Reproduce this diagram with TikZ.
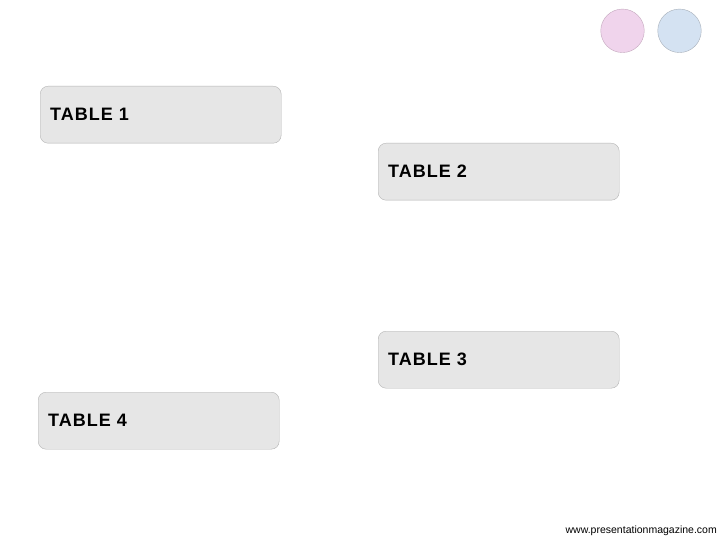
\documentclass[tikz,border=0pt]{standalone}
\usepackage{fontspec}
\setmainfont{Liberation Sans}
\newfontfamily\tablefont[LetterSpace=5.5]{Liberation Sans}
\usetikzlibrary{positioning}
\usepackage{xcolor}
\newcommand{\boxwd}{241pt}
\newcommand{\boxht}{57pt}
\definecolor{boxgray}{HTML}{E6E6E6}
\definecolor{edgegray}{HTML}{B4B4B4}
\definecolor{dotpink}{HTML}{F0D4EC}
\definecolor{dotpinkedge}{HTML}{C4A8BE}
\definecolor{dotblue}{HTML}{D4E2F2}
\definecolor{dotblueedge}{HTML}{A8B0BA}
\tikzset{
    tablesty/.style={draw=edgegray,fill=boxgray,rounded corners=8pt,rectangle,
                     minimum width=\boxwd,minimum height=\boxht,text width=221pt,
                     inner xsep=10pt,align=left,anchor=north west,
                     font=\tablefont\bfseries\fontsize{18}{21}\selectfont},
    pdotsty/.style={draw=dotpinkedge,fill=dotpink,circle,minimum size=43.5pt,inner sep=0pt},
    bdotsty/.style={draw=dotblueedge,fill=dotblue,circle,minimum size=43.5pt,inner sep=0pt},
    urlsty/.style={anchor=east,inner sep=0pt,font=\fontsize{10.5}{12}\selectfont},
}

\begin{document}
\begin{tikzpicture}[x=1pt,y=-1pt]
  \useasboundingbox[fill=white] (0,0) rectangle (720,540);

  % decoration dots
  \node[pdotsty] (dotp) at (622.5,30.8) {};
  \node[bdotsty] (dotb) at (679.5,30.8) {};

  % tables
  \node[tablesty] (tab1) at (40,86)  {TABLE 1};
  \node[tablesty] (tab2) at (378,143) {TABLE 2};
  \node[tablesty] (tab3) at (378,331) {TABLE 3};
  \node[tablesty] (tab4) at (38,392) {TABLE 4};

  \node[urlsty] (url) at (717,531) {www.presentationmagazine.com};
\end{tikzpicture}
\end{document}
